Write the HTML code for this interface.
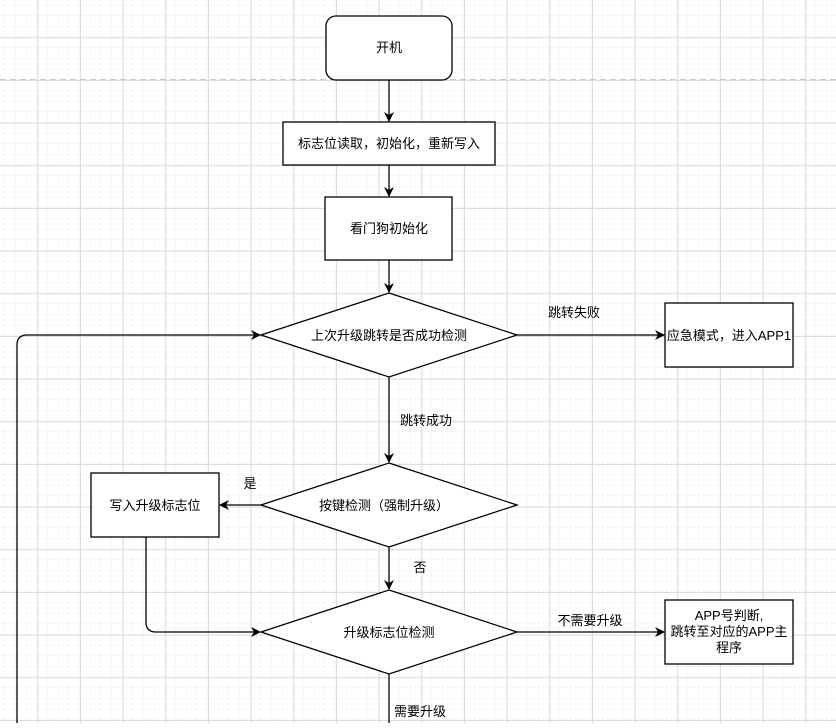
<!DOCTYPE html>
<html><head><meta charset="utf-8"><style>
html,body{margin:0;padding:0;}
body{width:836px;height:723px;overflow:hidden;background:#fff;}
svg text{font-family:"Liberation Sans","Noto Sans CJK SC",sans-serif;font-size:13px;fill:#000;}
</style></head><body>
<svg width="836" height="723" viewBox="0 0 836 723" xmlns="http://www.w3.org/2000/svg">
<defs>
<pattern id="minor" x="5.33" y="5.33" width="10.667" height="10.667" patternUnits="userSpaceOnUse">
<path d="M10.667 0V10.667M0 10.667H10.667" stroke="#efefef" stroke-width="1" fill="none"/>
</pattern>
<pattern id="major" x="37.33" y="37.33" width="42.667" height="42.667" patternUnits="userSpaceOnUse">
<path d="M0.5 0V42.667M0 0.5H42.667" stroke="#dcdcdc" stroke-width="1" fill="none"/>
</pattern>
<marker id="ar" markerWidth="10" markerHeight="10" refX="9" refY="5" orient="auto" markerUnits="userSpaceOnUse">
<path d="M0,0 L10,5 L0,10 L3,5 Z" fill="#000"/>
</marker>
</defs>
<rect width="836" height="723" fill="url(#minor)"/>
<rect width="836" height="723" fill="url(#major)"/>
<line x1="0" y1="79.5" x2="836" y2="79.5" stroke="#c8c8c8" stroke-dasharray="6,4"/>
<g stroke="#000" stroke-width="1.3" fill="#fff">
<rect x="326" y="16" width="126" height="64" rx="10"/>
<rect x="283" y="122" width="212" height="43"/>
<rect x="325" y="197" width="127" height="63"/>
<polygon points="389,293 517,335 389,377 261,335"/>
<rect x="665" y="303" width="128" height="64"/>
<polygon points="389,463 517,505 389,547 261,505"/>
<rect x="91" y="473" width="128" height="64"/>
<polygon points="389,590 517,632 389,674 261,632"/>
<rect x="665" y="600" width="128" height="64"/>
</g>
<g stroke="#000" stroke-width="1.3" fill="none" marker-end="url(#ar)">
<line x1="389" y1="80" x2="389" y2="121"/>
<line x1="389" y1="165" x2="389" y2="196"/>
<line x1="389" y1="260" x2="389" y2="292"/>
<line x1="517" y1="335" x2="664" y2="335"/>
<line x1="389" y1="377" x2="389" y2="462"/>
<line x1="261" y1="505" x2="220" y2="505"/>
<line x1="389" y1="547" x2="389" y2="589"/>
<line x1="517" y1="632" x2="664" y2="632"/>
<path d="M146 537 V622 Q146 632 156 632 H260"/>
<path d="M17 723 V345 Q17 335 27 335 H260"/>
</g>
<g stroke="#000" stroke-width="1.3"><line x1="389" y1="674" x2="389" y2="723"/></g>
<g text-anchor="middle">
<text x="389" y="52">开机</text>
<text x="389" y="148">标志位读取，初始化，重新写入</text>
<text x="389" y="233">看门狗初始化</text>
<text x="389" y="340">上次升级跳转是否成功检测</text>
<text x="574" y="317">跳转失败</text>
<text x="729" y="340">应急模式，进入APP1</text>
<text x="426" y="425">跳转成功</text>
<text x="384" y="510">按键检测（强制升级）</text>
<text x="155" y="510">写入升级标志位</text>
<text x="250" y="488">是</text>
<text x="420" y="572">否</text>
<text x="389" y="637">升级标志位检测</text>
<text x="590" y="625">不需要升级</text>
<text x="729" y="620">APP号判断,</text>
<text x="729" y="636">跳转至对应的APP主</text>
<text x="729" y="652">程序</text>
<text x="420" y="716">需要升级</text>
</g>
</svg>
</body></html>
